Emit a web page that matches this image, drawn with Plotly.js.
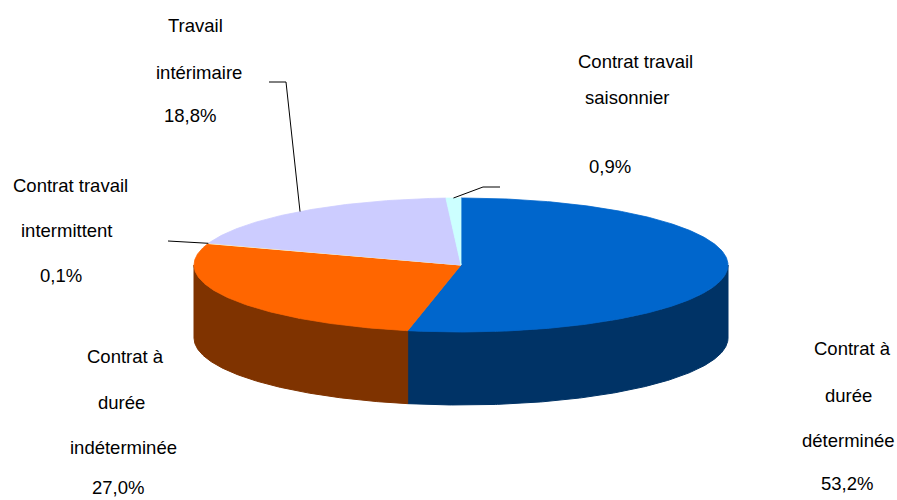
<!DOCTYPE html>
<html><head><meta charset="utf-8">
<script src="https://cdn.plot.ly/plotly-3.0.1.min.js"></script>
<style>html,body{margin:0;padding:0;background:#fff}</style>
</head><body><div id="chart" style="width:897px;height:500px"></div>
<script>
// ---- data ----
const categories = ['Contrat à durée déterminée', 'Contrat à durée indéterminée', 'Contrat travail intermittent', 'Travail intérimaire', 'Contrat travail saisonnier'];
const shares = [53.2, 27.0, 0.1, 18.8, 0.9];
const labelLines = [
  ['Contrat à', 'durée', 'déterminée'],
  ['Contrat à', 'durée', 'indéterminée'],
  ['Contrat travail', 'intermittent'],
  ['Travail', 'intérimaire'],
  ['Contrat travail', 'saisonnier']
];

// ---- styles / layout ----
const topColors = ['#0066CC', '#FF6600', '#FFFFCC', '#CCCCFF', '#CCFFFF'];
const sideColors = ['#003366', '#7F3300', '#808066', '#666699', '#669999'];
const labelPos = [
  [[852, 348], [848, 395], [848, 440], [847, 483]],
  [[125, 356], [121, 402], [123, 447], [118, 487]],
  [[70, 185], [67, 230], [61, 275]],
  [[195, 25], [199, 72], [190, 115]],
  [[635, 61], [627, 97], [610, 166]]
];
const leaderElbows = [null, null, [[168, 241], [187, 242]], [[269, 82], [286, 82]], [[500, 187], [483, 187]]];
const CX = 461, CY = 265, RX = 267, RY = 67, DEPTH = 73;
const FONT = {family: 'Liberation Sans, Arial, sans-serif', size: 18.5, color: '#000'};

function pt(deg, dy) {
  const r = deg * Math.PI / 180;
  return [CX + RX * Math.sin(r), CY - RY * Math.cos(r) + (dy || 0)];
}
function arc(a0, a1, dy) {
  const out = [];
  const n = Math.max(2, Math.ceil((a1 - a0) / 0.5));
  for (let i = 0; i <= n; i++) out.push(pt(a0 + (a1 - a0) * i / n, dy));
  return out;
}

const total = shares.reduce((s, v) => s + v, 0);
const bounds = [];
let acc = 0;
shares.forEach(v => { const a0 = acc / total * 360; acc += v; bounds.push([a0, acc / total * 360]); });

const traces = [];
// side walls (front half only)
bounds.forEach(([a0, a1], i) => {
  const s = Math.max(a0, 90), e = Math.min(a1, 270);
  if (e <= s) return;
  const pts = arc(s, e, 0).concat(arc(s, e, DEPTH).reverse());
  pts.push(pts[0]);
  traces.push({type: 'scatter', mode: 'lines', x: pts.map(p => p[0]), y: pts.map(p => p[1]),
    fill: 'toself', fillcolor: sideColors[i], line: {color: sideColors[i], width: 1}, hoverinfo: 'skip', name: categories[i]});
});
// top faces
bounds.forEach(([a0, a1], i) => {
  const pts = [[CX, CY]].concat(arc(a0, a1, 0));
  pts.push([CX, CY]);
  traces.push({type: 'scatter', mode: 'lines', x: pts.map(p => p[0]), y: pts.map(p => p[1]),
    fill: 'toself', fillcolor: topColors[i], line: {color: topColors[i], width: 0.8}, hoverinfo: 'skip', name: categories[i]});
});
// leader lines
bounds.forEach(([a0, a1], i) => {
  if (!leaderElbows[i]) return;
  const pts = leaderElbows[i].concat([pt((a0 + a1) / 2, 0)]);
  traces.push({type: 'scatter', mode: 'lines', x: pts.map(p => p[0]), y: pts.map(p => p[1]),
    line: {color: '#000', width: 1}, hoverinfo: 'skip'});
});

const annotations = [];
shares.forEach((v, i) => {
  const lines = labelLines[i].concat([v.toFixed(1).replace('.', ',') + '%']);
  lines.forEach((t, j) => {
    annotations.push({x: labelPos[i][j][0], y: labelPos[i][j][1], xref: 'x', yref: 'y', text: t,
      showarrow: false, xanchor: 'center', yanchor: 'middle', font: FONT});
  });
});

Plotly.newPlot('chart', traces, {
  width: 897, height: 500, margin: {l: 0, r: 0, t: 0, b: 0},
  paper_bgcolor: '#fff', plot_bgcolor: '#fff', showlegend: false,
  xaxis: {range: [0, 897], visible: false, fixedrange: true},
  yaxis: {range: [500, 0], visible: false, fixedrange: true},
  annotations: annotations
}, {staticPlot: true});
</script></body></html>
